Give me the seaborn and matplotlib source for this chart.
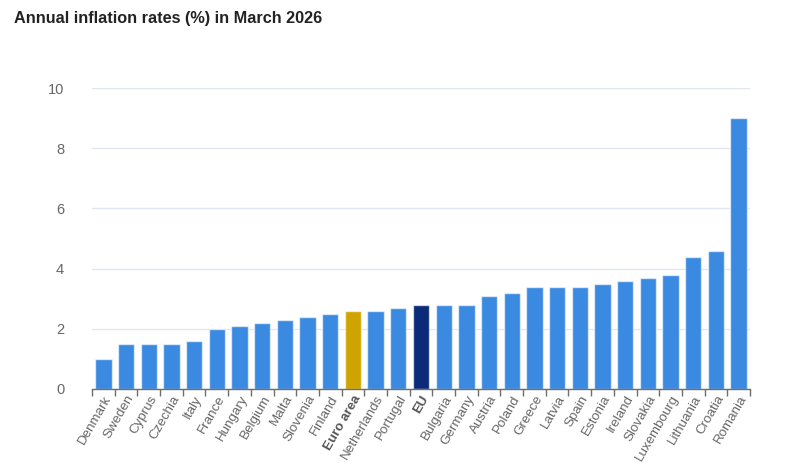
import matplotlib
matplotlib.use("Agg")
import matplotlib.pyplot as plt
import seaborn as sns
import numpy as np
import pandas as pd

countries = ["Denmark", "Sweden", "Cyprus", "Czechia", "Italy", "France", "Hungary",
             "Belgium", "Malta", "Slovenia", "Finland", "Euro area", "Netherlands",
             "Portugal", "EU", "Bulgaria", "Germany", "Austria", "Poland", "Greece",
             "Latvia", "Spain", "Estonia", "Ireland", "Slovakia", "Luxembourg",
             "Lithuania", "Croatia", "Romania"]
rates = [1.0, 1.5, 1.5, 1.5, 1.6, 2.0, 2.1, 2.2, 2.3, 2.4, 2.5, 2.6, 2.6, 2.7, 2.8,
         2.8, 2.8, 3.1, 3.2, 3.4, 3.4, 3.4, 3.5, 3.6, 3.7, 3.8, 4.4, 4.6, 9.0]
y_ticks = [0, 2, 4, 6, 8, 10]

sns.set_theme(style="white")
plt.rcParams['font.family'] = ['Liberation Sans', 'DejaVu Sans']

base = "#3a8ae2"
special = {"Euro area": "#cfa400", "EU": "#0b2a78"}
palette = [special.get(c, base) for c in countries]

df = pd.DataFrame({"country": countries, "rate": rates})

fig = plt.figure(figsize=(7.92, 4.66), dpi=100)
ax = fig.add_axes([92/792, 1-389/466, (750-92)/792, (389-88)/466])

sns.barplot(data=df, x="country", y="rate", hue="country", palette=palette,
            legend=False, ax=ax, width=0.72, saturation=1,
            edgecolor=(1, 1, 1, 0.6), linewidth=1)

ax.set_xlim(-0.5, len(countries) - 0.5)
ax.set_ylim(0, 10)
ax.set_yticks(y_ticks)
ax.set_yticklabels([str(t) for t in y_ticks])
ax.yaxis.grid(True, color="#e1e6f0", linewidth=1)
ax.set_axisbelow(True)
for s in ["top", "right", "left"]:
    ax.spines[s].set_visible(False)
ax.spines["bottom"].set_color("#6e6e6e")
ax.spines["bottom"].set_linewidth(1)

ax.set_xlabel("")
ax.set_ylabel("")
ax.tick_params(axis="y", length=0, pad=20, labelsize=10.5, labelcolor="#666666")
ax.tick_params(axis="x", which="major", length=0, pad=3, labelsize=9.6, labelcolor="#666666")
ax.set_xticks(np.arange(-0.5, len(countries), 1), minor=True)
ax.tick_params(axis="x", which="minor", length=5, color="#6e6e6e", width=1, bottom=True)
ax.xaxis.set_tick_params(which="minor", direction="out")

labels = ax.get_xticklabels()
for lab in labels:
    lab.set_rotation(60)
    lab.set_ha("right")
    lab.set_va("top")
    lab.set_rotation_mode("anchor")
    if lab.get_text() in special:
        lab.set_fontweight("bold")
        lab.set_color("#555555")

fig.text(14/792, 1-18/466, "Annual inflation rates (%) in March 2026",
         fontsize=11.7, fontweight="bold", color="#222222", ha="left", va="center")

fig.savefig("out.png", dpi=100)
